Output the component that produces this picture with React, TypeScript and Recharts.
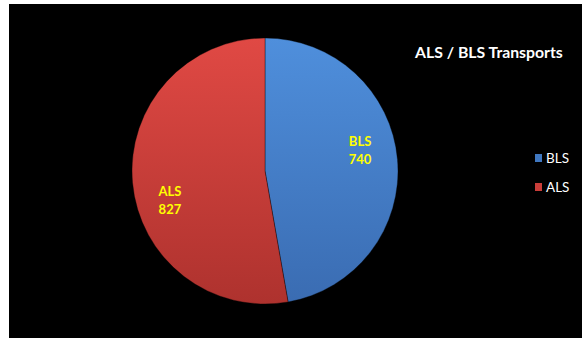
import React from 'react';
import { PieChart, Pie, Cell, Legend } from 'recharts';

const categories = ['BLS', 'ALS'];
const transports = [740, 827];
const title = 'ALS / BLS Transports';

const data = categories.map((name, i) => ({ name, value: transports[i] }));

const gradients = [
    { id: 'gBls', top: '#4f8fdc', bottom: '#3a6cb2', swatch: '#3f77c0' },
    { id: 'gAls', top: '#e04944', bottom: '#ae322e', swatch: '#c93d39' },
];

const RAD = Math.PI / 180;

const renderLabel = (props: any) => {
    const { cx, cy, midAngle, outerRadius, name, value } = props;
    const a = (midAngle + 10) * RAD;
    const r = outerRadius * 0.74;
    const x = cx + r * Math.cos(a);
    const y = cy - r * Math.sin(a);
    return (
        <text x={x} y={y} textAnchor="middle" fill="#ffff00" fontSize={13} fontWeight="bold" fontFamily="Lato, 'Open Sans', sans-serif">
            <tspan x={x} dy={0}>{name}</tspan>
            <tspan x={x} dy={18}>{value}</tspan>
        </text>
    );
};

const renderLegend = () => (
    <div style={{ fontFamily: "Lato, 'Open Sans', sans-serif", fontSize: 13.5, color: '#fff' }}>
        {data.map((d, i) => (
            <div key={d.name} style={{ display: 'flex', alignItems: 'center', height: 29 }}>
                <span style={{ width: 7, height: 8, background: gradients[i].swatch, marginRight: 4, display: 'inline-block' }} />
                <span>{d.name}</span>
            </div>
        ))}
    </div>
);

export default function App() {
    return (
        <div style={{ position: 'absolute', left: 0, top: 0, width: 584, height: 341, background: '#fff' }}>
            <div style={{ position: 'absolute', left: 9, top: 4, width: 573, height: 334, background: '#000' }}>
                <div style={{
                    position: 'absolute', left: 406, top: 38, color: '#fff', fontWeight: 'bold',
                    fontSize: 15.8, fontFamily: "Lato, 'Open Sans', sans-serif", whiteSpace: 'nowrap',
                }}>{title}</div>
                <PieChart width={573} height={334} margin={{ top: 0, right: 0, bottom: 0, left: 0 }}>
                    <defs>
                        {gradients.map(g => (
                            <linearGradient key={g.id} id={g.id} x1="0" y1="0" x2="0" y2="1">
                                <stop offset="0%" stopColor={g.top} />
                                <stop offset="100%" stopColor={g.bottom} />
                            </linearGradient>
                        ))}
                    </defs>
                    <Pie
                        data={data}
                        dataKey="value"
                        nameKey="name"
                        cx={256}
                        cy={167}
                        outerRadius={133}
                        startAngle={90}
                        endAngle={-270}
                        stroke="rgba(0,0,0,0.35)"
                        strokeWidth={1}
                        label={renderLabel}
                        labelLine={false}
                        isAnimationActive={false}
                    >
                        {data.map((d, i) => (
                            <Cell key={d.name} fill={`url(#${gradients[i].id})`} />
                        ))}
                    </Pie>
                    <Legend
                        layout="vertical"
                        align="right"
                        verticalAlign="top"
                        content={renderLegend}
                        wrapperStyle={{ left: 526, top: 139, width: 45 }}
                    />
                </PieChart>
            </div>
        </div>
    );
}
